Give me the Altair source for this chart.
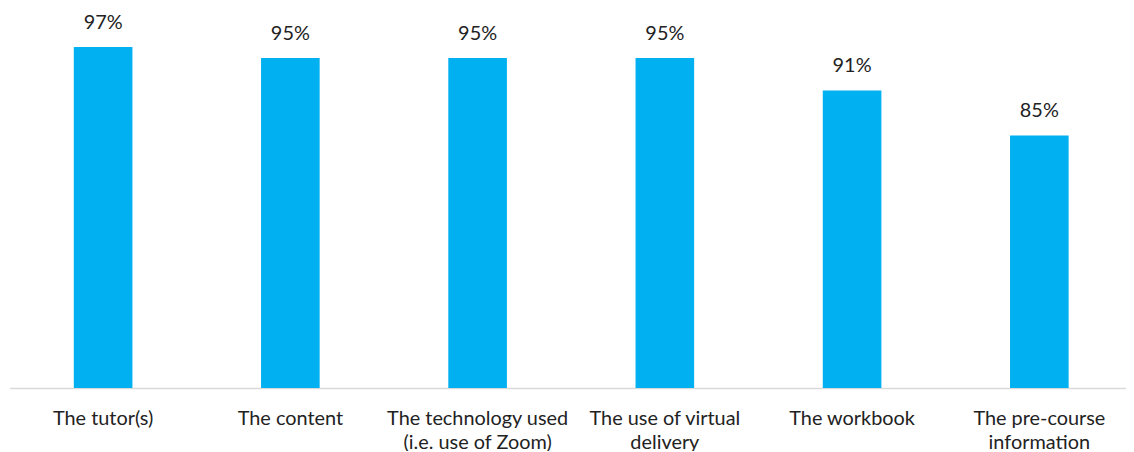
import altair as alt
import pandas as pd

categories = [
    "The tutor(s)",
    "The content",
    "The technology used\n(i.e. use of Zoom)",
    "The use of virtual\ndelivery",
    "The workbook",
    "The pre-course\ninformation",
]
values = [0.97, 0.9548, 0.9548, 0.9548, 0.91, 0.848]
axis_min = 0.5

df = pd.DataFrame({"item": categories, "share": values})

FONT = "Lato"
FS = 20

x = alt.X(
    "item:N",
    sort=categories,
    title=None,
    scale=alt.Scale(paddingInner=0.687, paddingOuter=0.3435),
    axis=alt.Axis(
        labelAngle=0,
        labelExpr="split(datum.label, '\\n')",
        labelFont=FONT,
        labelFontSize=FS,
        labelColor="#222222",
        labelBaseline="alphabetic",
        labelPadding=37,
        labelLineHeight=24,
        labelLimit=400,
        ticks=False,
        tickSize=0,
        domainColor="#d9d9d9",
        domainWidth=1.3,
        grid=False,
    ),
)
y = alt.Y(
    "share:Q",
    title=None,
    scale=alt.Scale(domain=[axis_min, 1.0], zero=False, nice=False),
    axis=None,
)

bars = alt.Chart(df).mark_bar(color="#00B0F0").encode(
    x=x, y=y, y2=alt.datum(axis_min)
)
labels = alt.Chart(df).mark_text(
    font=FONT, fontSize=FS, color="#222222", baseline="alphabetic", dy=-18.5
).encode(x=x, y=y, text=alt.Text("share:Q", format=".0%"))

chart = (
    alt.layer(bars, labels)
    .properties(width=1130.4, height=365)
    .configure(
        autosize=alt.AutoSizeParams(type="none"),
        padding={"left": 1.5, "top": 16, "right": -7, "bottom": 62},
    )
    .configure_view(stroke=None)
)

chart.save("out.html", embed_options={"renderer": "svg", "actions": False})
